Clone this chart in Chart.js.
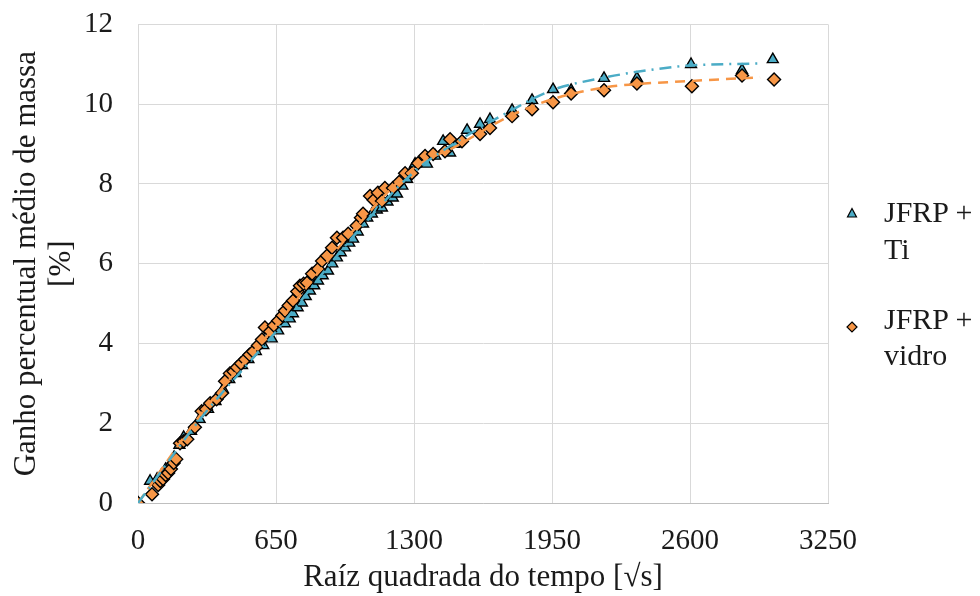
<!DOCTYPE html>
<html>
<head>
<meta charset="utf-8">
<script src="https://cdn.jsdelivr.net/npm/chart.js@4.4.1/dist/chart.umd.min.js"></script>
<style>
  html, body { margin: 0; padding: 0; background: #ffffff; overflow: hidden; }
  #wrap { position: relative; width: 980px; height: 596px; overflow: hidden; font-family: "Liberation Serif", "Times New Roman", serif; }
  #c { position: absolute; left: 0; top: -18px; }
  .leg { position: absolute; font-size: 30px; line-height: 37px; color: #1a1a1a; white-space: nowrap; }
  .mk { position: absolute; }
</style>
</head>
<body>
<div id="wrap">
  <canvas id="c" width="980" height="614"></canvas>
  <svg class="mk" style="left:846px;top:207px" width="12" height="12" viewBox="0 0 12 12"><polygon points="6,1.5 10.5,10 1.5,10" fill="#4BACC6" stroke="#000" stroke-width="1.2"/></svg>
  <div class="leg" style="left:884px;top:193px">JFRP +<br>Ti</div>
  <svg class="mk" style="left:846px;top:321px" width="12" height="12" viewBox="0 0 12 12"><polygon points="6,1 11,6 6,11 1,6" fill="#F79646" stroke="#000" stroke-width="1.2"/></svg>
  <div class="leg" style="left:884px;top:301px;line-height:36px">JFRP +<br>vidro</div>
</div>
<script>
// ---- data ----
const tiX = [0,57,90,110,130,150,170,195,215,250,290,330,365,400,430,460,490,520,555,590,630,660,692,715,730,752,772,790,810,830,848,870,895,915,937,955,975,995,1013,1035,1060,1080,1102,1125,1149,1175,1200,1220,1245,1267,1285,1305,1330,1361,1400,1437,1470,1490,1550,1611,1658,1762,1856,1955,2040,2195,2350,2605,2845,2990];
const tiY = [0,0.55,0.6,0.7,0.85,0.95,1.15,1.45,1.65,1.8,2.1,2.35,2.55,2.85,3.1,3.25,3.45,3.6,3.8,3.95,4.12,4.32,4.5,4.62,4.75,4.9,5.02,5.18,5.32,5.45,5.57,5.7,5.82,6.0,6.15,6.28,6.4,6.52,6.62,6.8,7.0,7.15,7.25,7.35,7.4,7.55,7.65,7.75,7.95,8.12,8.3,8.5,8.55,8.5,8.7,9.07,8.78,9.0,9.35,9.5,9.62,9.85,10.1,10.37,10.35,10.65,10.65,11.0,10.85,11.12];

const viX = [0,66,95,105,118,130,142,155,168,180,198,215,232,268,300,320,340,370,395,410,433,450,466,485,504,525,542,565,584,598,622,640,660,680,692,710,730,750,763,780,796,820,848,867,890,914,937,966,990,1030,1050,1060,1093,1110,1130,1149,1163,1201,1230,1258,1290,1319,1352,1390,1446,1470,1526,1611,1658,1762,1856,1955,2040,2195,2350,2609,2845,2996];
const viY = [0,0.22,0.45,0.55,0.6,0.7,0.75,0.85,1.0,1.1,1.5,1.55,1.6,1.9,2.3,2.35,2.5,2.6,2.75,3.05,3.25,3.3,3.4,3.5,3.6,3.72,3.8,3.95,4.1,4.4,4.3,4.45,4.57,4.7,4.82,4.95,5.07,5.3,5.45,5.5,5.52,5.75,5.87,6.07,6.2,6.4,6.65,6.65,6.75,6.95,7.15,7.25,7.7,7.6,7.78,7.57,7.9,7.9,8.05,8.27,8.27,8.52,8.7,8.75,8.82,9.12,9.07,9.25,9.4,9.7,9.87,10.05,10.27,10.35,10.52,10.45,10.72,10.62];

// trend lines
const tiTrendX = [0,300,650,1000,1300,1500,1750,1950,2200,2400,2600,2930];
const tiTrendY = [0,2.15,4.3,6.6,8.3,9.05,9.82,10.35,10.67,10.85,10.97,11.02];
const viTrendX = [0,300,650,1000,1300,1500,1750,1950,2200,2600,2930];
const viTrendY = [0,2.25,4.45,6.75,8.4,8.95,9.7,10.12,10.42,10.58,10.67];

const xTicks = [0,650,1300,1950,2600,3250];
const yTicks = [0,2,4,6,8,10,12];
const seriesNames = ['JFRP + Ti','JFRP + vidro'];

const pts = (xs, ys) => xs.map((x, i) => ({x: x, y: ys[i]}));
const FONT = 'Liberation Serif';
const TXT = '#1a1a1a';

new Chart(document.getElementById('c'), {
  type: 'scatter',
  data: {
    datasets: [
      { label: 'trend Ti', type: 'line', data: pts(tiTrendX, tiTrendY), borderColor: '#4BACC6', borderWidth: 2.5,
        borderDash: [12,6,2,6], pointRadius: 0, fill: false, cubicInterpolationMode: 'monotone', order: 0 },
      { label: 'trend vidro', type: 'line', data: pts(viTrendX, viTrendY), borderColor: '#F79646', borderWidth: 2.5,
        borderDash: [10,7], pointRadius: 0, fill: false, cubicInterpolationMode: 'monotone', order: 1 },
      { label: seriesNames[1], data: pts(viX, viY), pointStyle: 'rectRot', pointRadius: 6.5,
        backgroundColor: '#F79646', borderColor: '#000000', borderWidth: 1.4, order: 2 },
      { label: seriesNames[0], data: pts(tiX, tiY), pointStyle: 'triangle', pointRadius: 6.3,
        backgroundColor: '#4BACC6', borderColor: '#000000', borderWidth: 1.4, order: 3 }
    ]
  },
  options: {
    responsive: false,
    devicePixelRatio: 1,
    animation: false,
    layout: { autoPadding: false, padding: { left: 0, right: 152, top: 6, bottom: 0 } },
    plugins: { legend: { display: false }, tooltip: { enabled: false } },
    scales: {
      x: {
        type: 'linear', min: 0, max: 3250,
        afterBuildTicks: s => { s.ticks = xTicks.map(v => ({value: v})); },
        afterFit: s => { s.height = 93; },
        grid: { color: '#d9d9d9', lineWidth: 1, drawTicks: false },
        border: { color: '#bfbfbf' },
        ticks: { color: TXT, font: { family: FONT, size: 29 }, padding: 21, maxRotation: 0,
                 callback: v => String(v) },
        title: { display: true, text: 'Raíz quadrada do tempo [√s]', color: TXT,
                 font: { family: FONT, size: 31 }, padding: { top: 0, bottom: 0 } }
      },
      y: {
        type: 'linear', min: 0, max: 12,
        afterBuildTicks: s => { s.ticks = yTicks.map(v => ({value: v})); },
        afterFit: s => { s.width = 138; },
        grid: { color: '#d9d9d9', lineWidth: 1, drawTicks: false },
        border: { color: '#d9d9d9' },
        ticks: { color: TXT, font: { family: FONT, size: 29 }, padding: 25, callback: v => String(v) },
        title: { display: true, text: ['Ganho percentual médio de massa', '[%]'], color: TXT,
                 font: { family: FONT, size: 31, lineHeight: 1.13 }, padding: { top: 9, bottom: 0 } }
      }
    }
  }
});
</script>
</body>
</html>
